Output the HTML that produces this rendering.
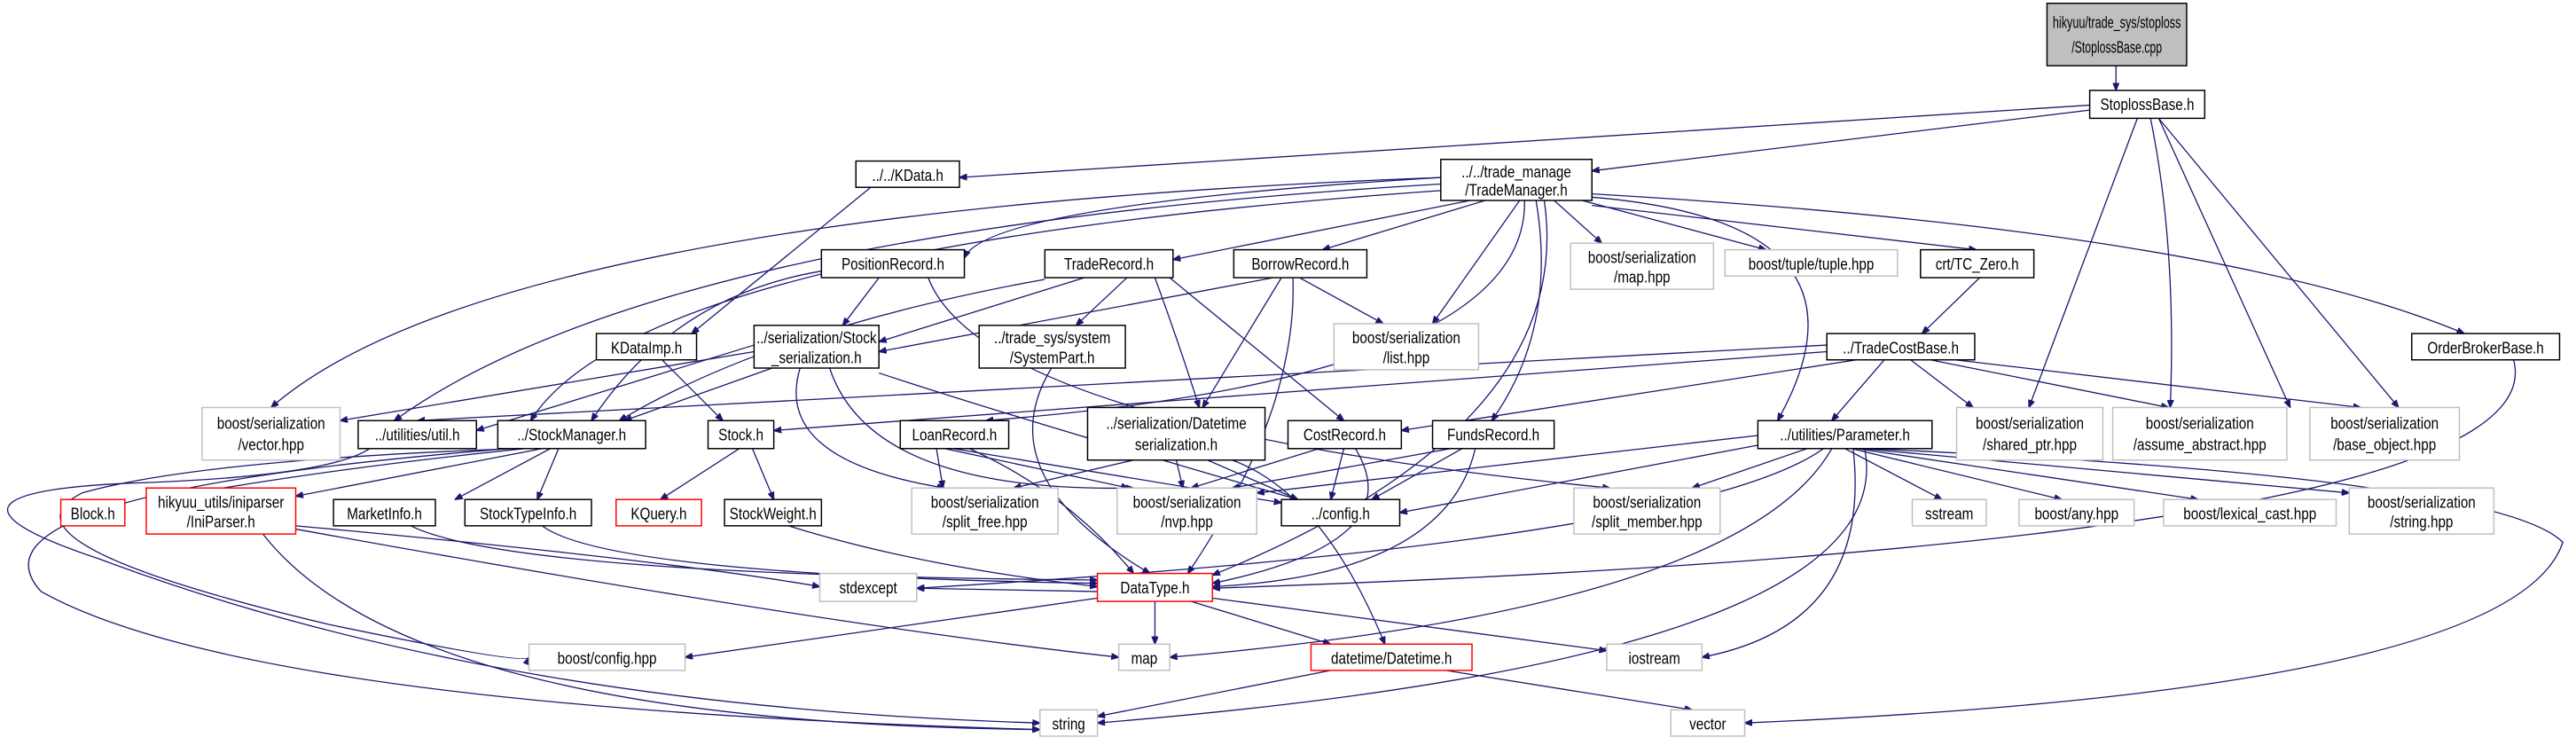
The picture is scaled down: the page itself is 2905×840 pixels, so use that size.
<!DOCTYPE html>
<html><head><meta charset="utf-8"><style>
html,body{margin:0;padding:0;background:#fff;}
svg{display:block;}
text{font-family:"Liberation Sans",sans-serif;font-size:9.8px;fill:#000;text-anchor:middle;}
.e{fill:none;stroke:#191970;stroke-width:0.7;}
.n{fill:#fff;stroke:#000;stroke-width:0.8;}
.g{fill:#fff;stroke:#bfbfbf;stroke-width:0.8;}
.r{fill:#fff;stroke:#ff0000;stroke-width:0.8;}
</style></head><body>
<svg id="s" width="2905" height="840" viewBox="0 0 1568 453.4" preserveAspectRatio="none">
<defs><marker id="a" markerWidth="5" markerHeight="4" refX="4.6" refY="2" orient="auto" markerUnits="userSpaceOnUse"><path d="M0,0 L5,2 L0,4 z" fill="#191970" stroke="#191970" stroke-width="0.4"/></marker></defs>
<g class="e" marker-end="url(#a)">
<path d="M1288,40 L1288,55"/>
<path d="M1272,64 L584,108"/>
<path d="M1272,67 L969,104"/>
<path d="M1301,72 L1235,248"/>
<path d="M1309,72 Q1325,150 1321,248"/>
<path d="M1314,72 L1394,248" />
<path d="M1314,72 L1460,248"/>
<path d="M530,114 L421,203"/>
<path d="M877,108 Q600,125 587,157"/>
<path d="M895,122 L714,158"/>
<path d="M904,122 L805,152"/>
<path d="M925,122 L872,197"/>
<path d="M946,122 L975,148"/>
<path d="M963,122 L1075,152"/>
<path d="M969,125 L1203,152"/>
<path d="M969,118 Q1350,140 1500,203"/>
<path d="M969,120 Q1150,135 1082,256"/>
<path d="M877,108 Q300,130 165,248"/>
<path d="M877,112 Q400,140 240,256"/>
<path d="M877,116 Q390,150 323,256"/>
<path d="M935,122 Q948,200 908,256"/>
<path d="M928,122 Q930,230 600,256"/>
<path d="M940,122 Q960,260 738,350"/>
<path d="M403,219 L440,256"/>
<path d="M535,169 L513,198"/>
<path d="M500,165 Q410,180 360,256"/>
<path d="M565,169 Q600,260 980,297"/>
<path d="M660,169 L535,208"/>
<path d="M686,169 L655,198"/>
<path d="M703,169 Q718,210 730,248"/>
<path d="M636,170 Q470,200 377,256"/>
<path d="M712,169 L818,256"/>
<path d="M775,169 L535,214"/>
<path d="M791,169 L842,197"/>
<path d="M780,169 L732,248"/>
<path d="M787,169 Q790,250 723,349"/>
<path d="M1205,169 L1170,203"/>
<path d="M1112,210 L254,256"/>
<path d="M1112,214 L471,262"/>
<path d="M1130,219 L853,262"/>
<path d="M1147,219 L1115,256"/>
<path d="M1163,219 L1201,248"/>
<path d="M1175,219 L1320,248"/>
<path d="M1190,219 L1437,248"/>
<path d="M1530,219 Q1560,330 738,358"/>
<path d="M459,210 L290,262"/>
<path d="M459,214 L207,256"/>
<path d="M470,224 L380,256"/>
<path d="M487,224 Q470,280 575,297"/>
<path d="M505,224 Q530,300 690,297"/>
<path d="M535,227 Q620,255 790,304"/>
<path d="M640,224 Q600,290 700,349"/>
<path d="M225,273 Q200,290 80,294 Q-60,300 60,340 Q300,430 633,440"/>
<path d="M320,273 Q200,285 95,304"/>
<path d="M330,273 L180,302"/>
<path d="M335,273 L277,304"/>
<path d="M340,273 L327,304"/>
<path d="M315,273 Q120,280 50,300 Q-10,330 200,380 Q320,405 322,400"/>
<path d="M310,273 Q-30,300 25,360 Q150,430 633,444"/>
<path d="M450,273 L402,304"/>
<path d="M458,273 L471,304"/>
<path d="M570,273 L574,297"/>
<path d="M575,273 L687,297"/>
<path d="M580,273 L780,306"/>
<path d="M590,273 Q650,300 690,349"/>
<path d="M690,280 L617,297"/>
<path d="M716,280 L720,297"/>
<path d="M735,280 L790,304"/>
<path d="M750,280 Q805,300 843,392"/>
<path d="M803,273 L725,297"/>
<path d="M818,273 L810,304"/>
<path d="M825,273 Q860,330 738,355"/>
<path d="M883,273 L750,297"/>
<path d="M890,273 L835,304"/>
<path d="M898,273 Q880,350 738,357"/>
<path d="M1070,265 L765,300"/>
<path d="M1075,270 L852,312"/>
<path d="M1100,273 L1030,297"/>
<path d="M1123,273 L1182,304"/>
<path d="M1127,273 L1255,304"/>
<path d="M1130,273 L1338,304"/>
<path d="M1133,273 L1430,300"/>
<path d="M1110,273 Q1030,330 558,358"/>
<path d="M1115,273 Q1060,370 712,400"/>
<path d="M1128,273 Q1140,380 1036,400"/>
<path d="M1135,273 Q1160,400 668,440"/>
<path d="M1136,273 Q1520,290 1560,330 Q1530,420 1062,440"/>
<path d="M180,320 Q400,340 499,357"/>
<path d="M180,322 Q500,380 681,400"/>
<path d="M160,325 Q250,440 633,444"/>
<path d="M250,320 Q310,350 668,353"/>
<path d="M330,320 Q370,350 668,355"/>
<path d="M480,320 Q560,345 668,357"/>
<path d="M668,360 L558,358"/>
<path d="M668,364 L417,400"/>
<path d="M703,366 L703,392"/>
<path d="M725,366 L810,392"/>
<path d="M738,364 L978,396"/>
<path d="M810,408 L668,436"/>
<path d="M880,408 L1030,432"/>
</g>
<g>
<rect x="1246" y="2" width="85" height="38" fill="#bfbfbf" stroke="#000" stroke-width="0.8"/>
<text x="1288.5" y="17" textLength="78" lengthAdjust="spacingAndGlyphs">hikyuu/trade_sys/stoploss</text><text x="1288.5" y="32" textLength="55" lengthAdjust="spacingAndGlyphs">/StoplossBase.cpp</text>
<rect class="n" x="1272" y="55" width="70" height="17"/><text x="1307" y="67">StoplossBase.h</text>
<rect class="n" x="521" y="98" width="63" height="16"/><text x="552.5" y="110">../../KData.h</text>
<rect class="n" x="877" y="97" width="92" height="25"/><text x="923" y="108">../../trade_manage</text><text x="923" y="119">/TradeManager.h</text>
<rect class="n" x="500" y="152" width="87" height="17"/><text x="543.5" y="164">PositionRecord.h</text>
<rect class="n" x="636" y="152" width="78" height="17"/><text x="675" y="164">TradeRecord.h</text>
<rect class="n" x="751" y="152" width="81" height="17"/><text x="791.5" y="164">BorrowRecord.h</text>
<rect class="g" x="956" y="148" width="87" height="28"/><text x="999.5" y="160">boost/serialization</text><text x="999.5" y="172">/map.hpp</text>
<rect class="g" x="1050" y="152" width="105" height="16"/><text x="1102.5" y="164">boost/tuple/tuple.hpp</text>
<rect class="n" x="1169" y="152" width="69" height="17"/><text x="1203.5" y="164">crt/TC_Zero.h</text>
<rect class="n" x="363" y="203" width="61" height="16"/><text x="393.5" y="215">KDataImp.h</text>
<rect class="n" x="459" y="198" width="76" height="26"/><text x="497" y="209">../serialization/Stock</text><text x="497" y="221">_serialization.h</text>
<rect class="n" x="596" y="198" width="89" height="26"/><text x="640.5" y="209">../trade_sys/system</text><text x="640.5" y="221">/SystemPart.h</text>
<rect class="g" x="812" y="197" width="88" height="28"/><text x="856" y="209">boost/serialization</text><text x="856" y="221">/list.hpp</text>
<rect class="n" x="1112" y="203" width="90" height="16"/><text x="1157" y="215">../TradeCostBase.h</text>
<rect class="n" x="1468" y="203" width="90" height="16"/><text x="1513" y="215">OrderBrokerBase.h</text>
<rect class="g" x="123" y="248" width="84" height="32"/><text x="165" y="261">boost/serialization</text><text x="165" y="274">/vector.hpp</text>
<rect class="n" x="218" y="256" width="72" height="17"/><text x="254" y="268">../utilities/util.h</text>
<rect class="n" x="303" y="256" width="90" height="17"/><text x="348" y="268">../StockManager.h</text>
<rect class="n" x="431" y="256" width="40" height="17"/><text x="451" y="268">Stock.h</text>
<rect class="n" x="548" y="256" width="66" height="17"/><text x="581" y="268">LoanRecord.h</text>
<rect class="n" x="662" y="248" width="108" height="32"/><text x="716" y="261">../serialization/Datetime</text><text x="716" y="274">serialization.h</text>
<rect class="n" x="784" y="256" width="69" height="17"/><text x="818.5" y="268">CostRecord.h</text>
<rect class="n" x="872" y="256" width="74" height="17"/><text x="909" y="268">FundsRecord.h</text>
<rect class="n" x="1070" y="256" width="106" height="17"/><text x="1123" y="268">../utilities/Parameter.h</text>
<rect class="g" x="1191" y="248" width="89" height="32"/><text x="1235.5" y="261">boost/serialization</text><text x="1235.5" y="274">/shared_ptr.hpp</text>
<rect class="g" x="1286" y="248" width="106" height="32"/><text x="1339" y="261">boost/serialization</text><text x="1339" y="274">/assume_abstract.hpp</text>
<rect class="g" x="1406" y="248" width="91" height="32"/><text x="1451.5" y="261">boost/serialization</text><text x="1451.5" y="274">/base_object.hpp</text>
<rect class="r" x="37" y="304" width="39" height="16"/><text x="56.5" y="316">Block.h</text>
<rect class="r" x="89" y="297" width="91" height="28"/><text x="134.5" y="309">hikyuu_utils/iniparser</text><text x="134.5" y="321">/IniParser.h</text>
<rect class="n" x="203" y="304" width="62" height="16"/><text x="234" y="316">MarketInfo.h</text>
<rect class="n" x="283" y="304" width="77" height="16"/><text x="321.5" y="316">StockTypeInfo.h</text>
<rect class="r" x="375" y="304" width="52" height="16"/><text x="401" y="316">KQuery.h</text>
<rect class="n" x="441" y="304" width="59" height="16"/><text x="470.5" y="316">StockWeight.h</text>
<rect class="g" x="555" y="297" width="89" height="28"/><text x="599.5" y="309">boost/serialization</text><text x="599.5" y="321">/split_free.hpp</text>
<rect class="g" x="680" y="297" width="85" height="28"/><text x="722.5" y="309">boost/serialization</text><text x="722.5" y="321">/nvp.hpp</text>
<rect class="n" x="780" y="304" width="72" height="16"/><text x="816" y="316">../config.h</text>
<rect class="g" x="958" y="297" width="89" height="28"/><text x="1002.5" y="309">boost/serialization</text><text x="1002.5" y="321">/split_member.hpp</text>
<rect class="g" x="1164" y="304" width="45" height="16"/><text x="1186.5" y="316">sstream</text>
<rect class="g" x="1229" y="304" width="70" height="16"/><text x="1264" y="316">boost/any.hpp</text>
<rect class="g" x="1317" y="304" width="105" height="16"/><text x="1369.5" y="316">boost/lexical_cast.hpp</text>
<rect class="g" x="1430" y="297" width="88" height="28"/><text x="1474" y="309">boost/serialization</text><text x="1474" y="321">/string.hpp</text>
<rect class="g" x="499" y="349" width="59" height="17"/><text x="528.5" y="361">stdexcept</text>
<rect class="r" x="668" y="349" width="70" height="17"/><text x="703" y="361">DataType.h</text>
<rect class="g" x="322" y="392" width="95" height="16"/><text x="369.5" y="404">boost/config.hpp</text>
<rect class="g" x="681" y="392" width="31" height="16"/><text x="696.5" y="404">map</text>
<rect class="r" x="798" y="392" width="98" height="16"/><text x="847" y="404">datetime/Datetime.h</text>
<rect class="g" x="978" y="392" width="58" height="16"/><text x="1007" y="404">iostream</text>
<rect class="g" x="633" y="432" width="35" height="16"/><text x="650.5" y="444">string</text>
<rect class="g" x="1017" y="432" width="45" height="16"/><text x="1039.5" y="444">vector</text>
</g>
</svg>
<script>
(function(){
  var ts=document.querySelectorAll('#s text');
  for(var i=0;i<ts.length;i++){
    var t=ts[i];
    if(t.hasAttribute('textLength'))continue;
    try{
      var w=t.getComputedTextLength();
      t.setAttribute('textLength',(w*0.84).toFixed(1));
      t.setAttribute('lengthAdjust','spacingAndGlyphs');
    }catch(e){}
  }
})();
</script>
</body></html>
